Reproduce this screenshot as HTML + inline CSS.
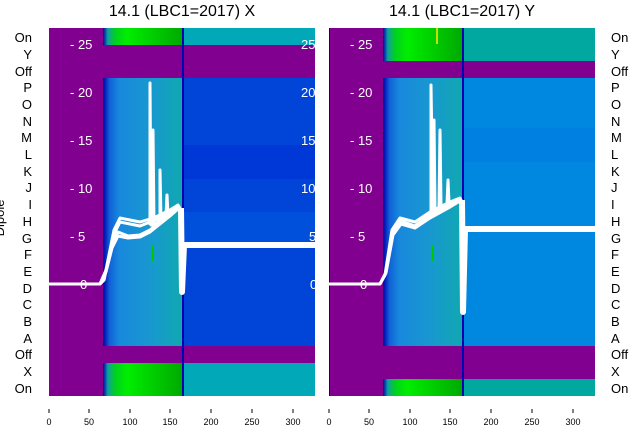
<!DOCTYPE html>
<html><head><meta charset="utf-8"><style>
body{margin:0;background:#fff;}
svg text{font-family:"Liberation Sans",sans-serif;}
</style></head><body>
<svg width="640" height="440" viewBox="0 0 640 440" xmlns="http://www.w3.org/2000/svg">
<defs>
<linearGradient id="gb" x1="0" x2="1">
<stop offset="0" stop-color="#0000a8"/><stop offset="0.08" stop-color="#1060d8"/><stop offset="0.2" stop-color="#1888dc"/><stop offset="0.6" stop-color="#1898d0"/><stop offset="1" stop-color="#10a8b0"/>
</linearGradient>
<linearGradient id="gg" x1="0" x2="1">
<stop offset="0" stop-color="#0000a8"/><stop offset="0.06" stop-color="#10a0a0"/><stop offset="0.15" stop-color="#00d020"/><stop offset="0.3" stop-color="#00ee00"/><stop offset="1" stop-color="#00a800"/>
</linearGradient>
</defs>
<text x="182" y="16" font-size="16" text-anchor="middle">14.1 (LBC1=2017) X</text>
<text x="462" y="16" font-size="16" text-anchor="middle">14.1 (LBC1=2017) Y</text>
<rect x="49" y="28" width="266" height="368" fill="#820090"/>
<rect x="103" y="28" width="80" height="17" fill="url(#gg)"/>
<rect x="183" y="28" width="132" height="17" fill="#00a8b8"/>
<rect x="103" y="78" width="80" height="268" fill="url(#gb)"/>
<rect x="183" y="78" width="132" height="268" fill="#0044d8"/>
<rect x="183" y="145" width="132" height="34" fill="#0038d8"/>
<rect x="183" y="212" width="132" height="34" fill="#0050dc"/>
<rect x="103" y="363" width="80" height="33" fill="url(#gg)"/>
<rect x="183" y="363" width="132" height="33" fill="#00a8b8"/>
<rect x="182" y="28" width="2" height="368" fill="#0000b0"/>
<rect x="329" y="28" width="266" height="368" fill="#820090"/>
<rect x="383" y="28" width="80" height="33" fill="url(#gg)"/>
<rect x="463" y="28" width="132" height="33" fill="#00a8a0"/>
<rect x="383" y="78" width="80" height="268" fill="url(#gb)"/>
<rect x="463" y="78" width="132" height="268" fill="#0088e0"/>
<rect x="463" y="128" width="132" height="34" fill="#0080e0"/>
<rect x="383" y="379" width="80" height="17" fill="url(#gg)"/>
<rect x="463" y="379" width="132" height="17" fill="#00a8a0"/>
<rect x="462" y="28" width="2" height="368" fill="#0000b0"/>
<rect x="329" y="28" width="1" height="368" fill="#0000b0"/>
<g fill="none" stroke="#fff" stroke-width="3" stroke-linejoin="round">
<polyline points="49,284 100,284 104,280 110,250 114,230 120,218 130,220 140,222 150,219 160,215 170,210 178,205 181,210"/>
<polyline points="49,284 100,284 104,280 110,252 114,234 120,222 130,224 140,226 150,222 160,218 170,212 178,207 181,210"/>
<polyline points="100,284 106,270 112,245 118,232 128,236 140,235 150,230 160,222 170,214 178,208"/>
<polyline points="100,284 106,272 112,248 118,236 128,238 140,237 150,232 160,224 170,216 178,209"/>
<polyline points="181,208 182,292 184,245 315,245" stroke-width="6"/>
<polyline points="150,225 150,83 151,225 152,225 153,130 154,225 160,220 160,170 161,220 166,215 167,195 168,215"/>
</g>
<g fill="none" stroke="#fff" stroke-width="3" stroke-linejoin="round">
<polyline points="329,284 380,284 385,275 392,230 400,218 415,222 430,212 450,202 460,198 462,202"/>
<polyline points="380,284 386,272 393,232 401,221 415,226 430,215 450,205 460,200"/>
<polyline points="380,284 386,273 393,235 401,224 415,228 430,218 450,207 460,201"/>
<polyline points="462,200 463,312 465,229 595,229" stroke-width="6"/>
<polyline points="431,215 431,85 433,212 434,120 435,210 439,208 440,130 441,206 447,204 448,180 449,203"/>
</g>
<rect x="436" y="28" width="2" height="16" fill="#c8e000"/>
<rect x="432" y="246" width="2" height="15" fill="#00c800"/>
<rect x="152" y="246" width="2" height="15" fill="#00c800"/>
<g fill="#fff" font-size="13">
<text x="70" y="49">- 25</text><text x="70" y="97">- 20</text><text x="70" y="145">- 15</text><text x="70" y="193">- 10</text><text x="70" y="241">- 5</text><text x="80" y="289">0</text>
<text x="301" y="49">25</text><text x="301" y="97">20</text><text x="301" y="145">15</text><text x="301" y="193">10</text><text x="309" y="241">5</text><text x="310" y="289">0</text>
<text x="350" y="49">- 25</text><text x="350" y="97">- 20</text><text x="350" y="145">- 15</text><text x="350" y="193">- 10</text><text x="350" y="241">- 5</text><text x="360" y="289">0</text>
</g>
<g font-size="13" text-anchor="end">
<text x="32" y="42">On</text><text x="32" y="59">Y</text><text x="32" y="76">Off</text><text x="32" y="92">P</text><text x="32" y="109">O</text><text x="32" y="126">N</text><text x="32" y="142">M</text><text x="32" y="159">L</text><text x="32" y="176">K</text><text x="32" y="192">J</text><text x="32" y="209">I</text><text x="32" y="226">H</text><text x="32" y="243">G</text><text x="32" y="259">F</text><text x="32" y="276">E</text><text x="32" y="293">D</text><text x="32" y="309">C</text><text x="32" y="326">B</text><text x="32" y="343">A</text><text x="32" y="359">Off</text><text x="32" y="376">X</text><text x="32" y="393">On</text>
</g>
<g font-size="13">
<text x="611" y="42">On</text><text x="611" y="59">Y</text><text x="611" y="76">Off</text><text x="611" y="92">P</text><text x="611" y="109">O</text><text x="611" y="126">N</text><text x="611" y="142">M</text><text x="611" y="159">L</text><text x="611" y="176">K</text><text x="611" y="192">J</text><text x="611" y="209">I</text><text x="611" y="226">H</text><text x="611" y="243">G</text><text x="611" y="259">F</text><text x="611" y="276">E</text><text x="611" y="293">D</text><text x="611" y="309">C</text><text x="611" y="326">B</text><text x="611" y="343">A</text><text x="611" y="359">Off</text><text x="611" y="376">X</text><text x="611" y="393">On</text>
</g>
<text transform="translate(4,218) rotate(-90)" font-size="13" text-anchor="middle">Dipole</text>
<g font-size="9" text-anchor="middle" stroke-width="1">
<g stroke="#000"><line x1="49" y1="409" x2="49" y2="413"/><line x1="89" y1="409" x2="89" y2="413"/><line x1="130" y1="409" x2="130" y2="413"/><line x1="170" y1="409" x2="170" y2="413"/><line x1="211" y1="409" x2="211" y2="413"/><line x1="252" y1="409" x2="252" y2="413"/><line x1="293" y1="409" x2="293" y2="413"/>
<line x1="329" y1="409" x2="329" y2="413"/><line x1="369" y1="409" x2="369" y2="413"/><line x1="410" y1="409" x2="410" y2="413"/><line x1="450" y1="409" x2="450" y2="413"/><line x1="491" y1="409" x2="491" y2="413"/><line x1="532" y1="409" x2="532" y2="413"/><line x1="573" y1="409" x2="573" y2="413"/></g>
<text x="49" y="425">0</text><text x="89" y="425">50</text><text x="130" y="425">100</text><text x="170" y="425">150</text><text x="211" y="425">200</text><text x="252" y="425">250</text><text x="293" y="425">300</text>
<text x="329" y="425">0</text><text x="369" y="425">50</text><text x="410" y="425">100</text><text x="450" y="425">150</text><text x="491" y="425">200</text><text x="532" y="425">250</text><text x="573" y="425">300</text>
</g>
</svg>
</body></html>
